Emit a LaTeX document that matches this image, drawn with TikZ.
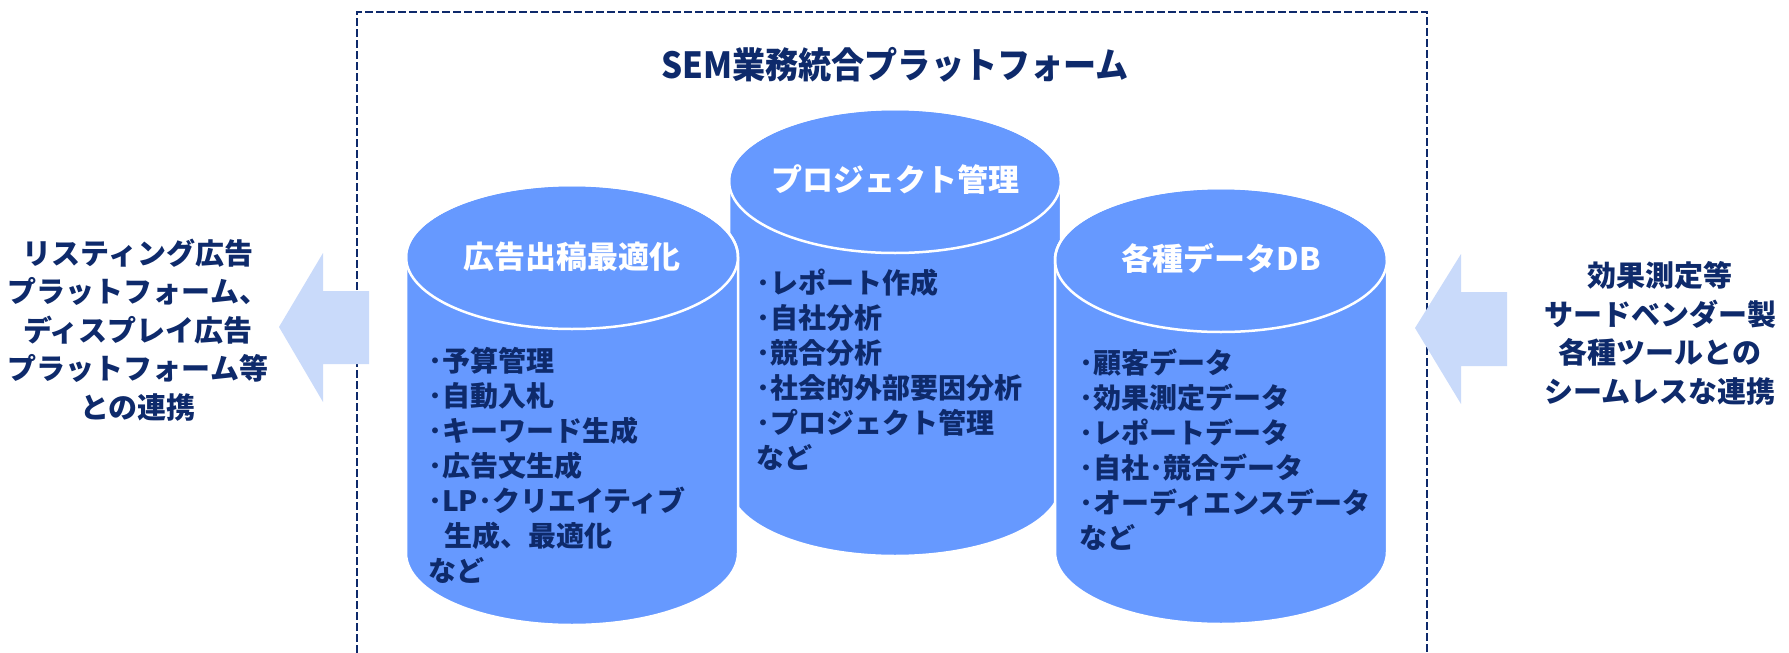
\documentclass[tikz,border=0pt]{standalone}
\usepackage{fontspec}
\usepackage{graphicx}
\setmainfont{Noto Sans CJK JP}
\definecolor{cylblue}{HTML}{6699FF}
\definecolor{arrowblue}{HTML}{C9DAFA}
\definecolor{navy}{HTML}{0E2A6B}
\tikzset{
  cylbody/.style={fill=cylblue, draw=white, line width=2.5pt},
  cyltop/.style={draw=white, line width=2.5pt},
  toplabel/.style={text=white, font=\bfseries\fontsize{31}{31}\selectfont, inner sep=0pt},
  bodytext/.style={text=navy, font=\bfseries\fontsize{28}{35}\selectfont, align=left, anchor=west, inner sep=0pt},
  sidetext/.style={text=navy, font=\bfseries\fontsize{29}{38.5}\selectfont, align=center, inner sep=0pt},
  blockarrow/.style={fill=arrowblue, draw=none},
  frame/.style={draw=navy, line width=2pt, dash pattern=on 8pt off 3pt},
  titletext/.style={text=navy, font=\bfseries\fontsize{36}{36}\selectfont, inner sep=0pt}
}
\begin{document}
\begin{tikzpicture}[x=1pt,y=-1pt]
\useasboundingbox (0,0) rectangle (1789,653);
% dashed frame
\draw[frame] (357,653) -- (357,12) -- (1427,12) -- (1427,653);
% title
\node[titletext] (title) at (895,65) {\scalebox{0.92}[1]{SEM業務統合プラットフォーム}};
% center cylinder
\path[cylbody] (729,181) -- (729,484) arc[start angle=180,end angle=360,x radius=166pt,y radius=72pt] -- (1061,181) arc[start angle=0,end angle=180,x radius=166pt,y radius=72pt] -- cycle;
\draw[cyltop] (895,181) ellipse[x radius=166pt, y radius=72pt];
% left cylinder
\path[cylbody] (406,257) -- (406,553) arc[start angle=180,end angle=360,x radius=166pt,y radius=72pt] -- (738,257) arc[start angle=0,end angle=180,x radius=166pt,y radius=72pt] -- cycle;
\draw[cyltop] (572,257) ellipse[x radius=166pt, y radius=72pt];
% right cylinder
\path[cylbody] (1055,260) -- (1055,552) arc[start angle=180,end angle=360,x radius=166pt,y radius=72pt] -- (1387,260) arc[start angle=0,end angle=180,x radius=166pt,y radius=72pt] -- cycle;
\draw[cyltop] (1221,260) ellipse[x radius=166pt, y radius=72pt];
% labels
\node[toplabel] (ltop) at (572,257) {広告出稿最適化};
\node[toplabel] (ctop) at (895,180) {プロジェクト管理};
\node[toplabel] (rtop) at (1221,258) {各種データDB};
\node[bodytext] (lbody) at (428,465) {･予算管理\\･自動入札\\･キーワード生成\\･広告文生成\\･LP･クリエイティブ\\\hspace*{16pt}生成、最適化\\など};
\node[bodytext] (cbody) at (756,369.5) {･レポート作成\\･自社分析\\･競合分析\\･社会的外部要因分析\\･プロジェクト管理\\など};
\node[bodytext] (rbody) at (1079,449.5) {･顧客データ\\･効果測定データ\\･レポートデータ\\･自社･競合データ\\･オーディエンスデータ\\など};
% block arrows
\path[blockarrow] (279,327) -- (323,253) -- (323,291) -- (369,291) -- (369,364) -- (323,364) -- (323,402) -- cycle;
\path[blockarrow] (1415,328) -- (1461,254) -- (1461,292) -- (1507,292) -- (1507,366) -- (1461,366) -- (1461,404) -- cycle;
% side texts
\node[sidetext] (ltext) at (138,330) {リスティング広告\\プラットフォーム、\\ディスプレイ広告\\プラットフォーム等\\との連携};
\node[sidetext] (rtext) at (1660,333.5) {効果測定等\\サードベンダー製\\各種ツールとの\\シームレスな連携};
\end{tikzpicture}
\end{document}
